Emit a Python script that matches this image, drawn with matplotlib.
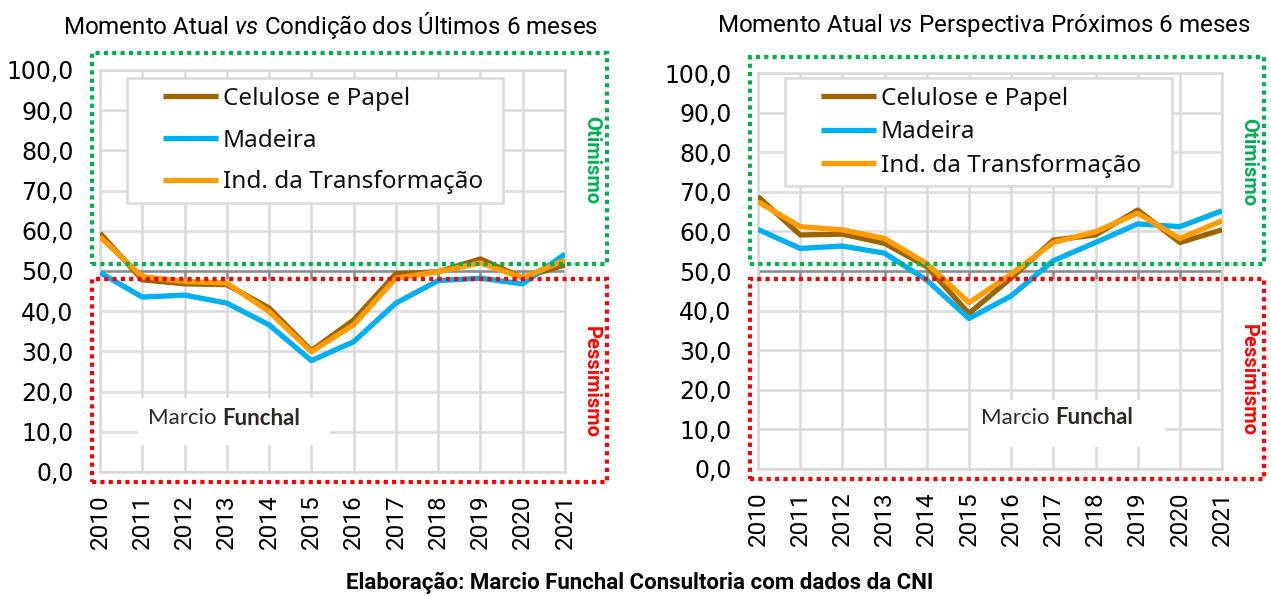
import matplotlib.pyplot as plt
from matplotlib.patches import Rectangle
from matplotlib.lines import Line2D
from matplotlib.legend_handler import HandlerLine2D

plt.rcParams['mathtext.fontset'] = 'custom'
plt.rcParams['mathtext.rm'] = 'Roboto'
plt.rcParams['mathtext.it'] = 'Roboto:italic'

# dados (leitura aproximada do gráfico original)
anos = [2010, 2011, 2012, 2013, 2014, 2015, 2016, 2017, 2018, 2019, 2020, 2021]

# Momento Atual vs Condição dos Últimos 6 meses
celulose_ult = [59.4, 47.8, 46.8, 46.6, 40.8, 30.2, 37.8, 49.3, 49.8, 53.0, 48.3, 51.5]
madeira_ult = [49.6, 43.5, 44.0, 42.0, 36.6, 27.7, 32.4, 42.0, 47.6, 48.2, 46.8, 54.2]
transf_ult = [58.5, 48.6, 47.4, 47.0, 39.9, 29.9, 36.6, 48.2, 49.8, 52.0, 48.3, 52.7]

# Momento Atual vs Perspectiva Próximos 6 meses
celulose_prox = [68.8, 59.1, 59.3, 57.0, 51.1, 39.3, 48.2, 57.8, 59.1, 65.4, 57.2, 60.4]
madeira_prox = [60.5, 55.7, 56.3, 54.5, 47.7, 38.0, 43.7, 52.6, 57.2, 61.9, 61.2, 65.2]
transf_prox = [67.5, 61.2, 60.4, 58.2, 51.9, 42.0, 49.2, 57.2, 59.9, 64.6, 58.2, 62.7]

series_nomes = ["Celulose e Papel", "Madeira", "Ind. da Transformação"]
cores = ["#9c6500", "#00b0f0", "#ff9c00"]
yticks = [0, 10, 20, 30, 40, 50, 60, 70, 80, 90, 100]
ylabels = [("%.1f" % v).replace(".", ",") for v in yticks]

titulos = [r"Momento Atual $\mathit{vs}$ Condição dos Últimos 6 meses",
           r"Momento Atual $\mathit{vs}$ Perspectiva Próximos 6 meses"]

fig = plt.figure(figsize=(12.71, 5.96), dpi=100)
ax1 = fig.add_axes([0.0787, 0.2081, 0.3658, 0.6745])
ax2 = fig.add_axes([0.5964, 0.2131, 0.3651, 0.6644])

grid_cor = "#d9d9d9"


def desenha(ax, dados, leg_bbox, leg_spacing, marca_x, marca_y, fundo):
    for valores, nome, cor in zip(dados, series_nomes, cores):
        ax.plot(anos, valores, color=cor, lw=3.8, label=nome, solid_capstyle='butt', zorder=3)
    ax.set_xlim(anos[0], anos[-1])
    ax.set_ylim(0, 100)
    ax.set_xticks(anos)
    ax.set_xticklabels([str(a) for a in anos], rotation=90, fontsize=17.5,
                       family='Roboto')
    ax.set_yticks(yticks)
    ax.set_yticklabels(ylabels, fontsize=17, family='DejaVu Sans')
    ax.tick_params(axis='both', length=0)
    ax.tick_params(axis='x', pad=16)
    ax.tick_params(axis='y', pad=19)
    ax.grid(True, color=grid_cor, lw=1.8, zorder=0)
    for s in ax.spines.values():
        s.set_color(grid_cor)
        s.set_linewidth(1.8)
    # eixo em 50
    ax.axhline(50, color="#8c8c8c", lw=1.8, zorder=2)
    ax.vlines(anos, 48, 50, color="#8c8c8c", lw=1.8, zorder=2)

    leg = ax.legend(loc='upper left', bbox_to_anchor=leg_bbox, mode='expand',
                    borderaxespad=0, fancybox=False, framealpha=1,
                    edgecolor=grid_cor, handlelength=3.4, handletextpad=0.2,
                    labelspacing=leg_spacing, borderpad=0.35,
                    handler_map={Line2D: HandlerLine2D(xpad=1.15)},
                    prop={'family': 'Noto Sans', 'size': 17.5})
    leg.get_frame().set_linewidth(1.8)
    leg.set_zorder(5)
    for t in leg.get_texts():
        t.set_color("#111111")

    # caixas de otimismo / pessimismo
    ax.add_patch(Rectangle((2009.82, 51.7), 12.17, 52.4, fill=False,
                           ec="#00b050", lw=3, ls=(0, (1, 1)), clip_on=False, zorder=6))
    ax.add_patch(Rectangle((2009.82, -2.6), 12.17, 50.6, fill=False,
                           ec="#ff0000", lw=3, ls=(0, (1, 1)), clip_on=False, zorder=6))
    ax.text(2021.62, 77.5, "Otimismo", rotation=-90, color="#00b050", fontsize=14.5,
            fontweight='bold', family='Roboto', ha='center', va='center', clip_on=False)
    ax.text(2021.62, 22.5, "Pessimismo", rotation=-90, color="#ff0000", fontsize=14.5,
            fontweight='bold', family='Roboto', ha='center', va='center', clip_on=False)

    # marca d'água
    ax.add_patch(Rectangle((fundo[0], fundo[1]), fundo[2], fundo[3], fc='white',
                           ec='none', zorder=4))
    ax.text(marca_x, marca_y, "Marcio ", ha='right', va='center', fontsize=16,
            family='Lato', color="#2f2522", zorder=5)
    ax.text(marca_x, marca_y, "Funchal", ha='left', va='center', fontsize=16,
            family='Lato', fontweight='bold', color="#2f2522", zorder=5)


desenha(ax1, [celulose_ult, madeira_ult, transf_ult],
        (0.058, 0.684, 0.809, 0.296), 0.74, 2012.9, 13.4, (2010.9, 6.7, 4.55, 11.7))
desenha(ax2, [celulose_prox, madeira_prox, transf_prox],
        (0.058, 0.725, 0.834, 0.262), 0.39, 2017.05, 12.9, (2015.05, 5.6, 4.6, 11.8))

fig.text(0.26, 0.958, titulos[0], ha='center', va='center', fontsize=17.4, family='Roboto')
fig.text(0.774, 0.958, titulos[1], ha='center', va='center', fontsize=17.4, family='Roboto')
fig.text(0.5036, 0.022, "Elaboração: Marcio Funchal Consultoria com dados da CNI",
         ha='center', va='center', fontsize=16, fontweight='bold', family='Roboto')

fig.savefig("out.png", dpi=100)
